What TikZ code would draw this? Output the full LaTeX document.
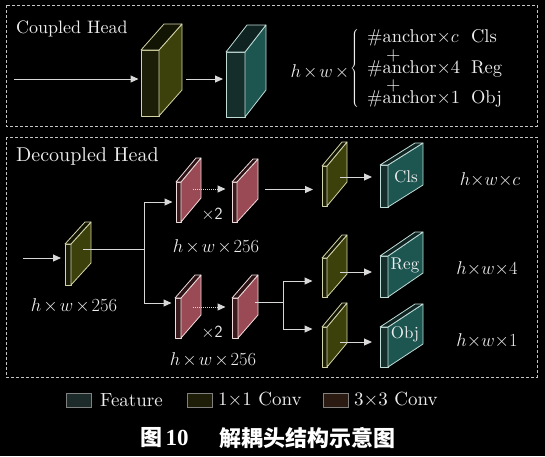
\RequirePackage{fix-cm}
\documentclass[tikz,border=0pt]{standalone}
\usepackage{fontspec}
\setmainfont{lmroman10-regular.otf}[BoldFont=lmroman10-bold.otf, ItalicFont=lmroman10-italic.otf]
\newfontfamily\cjk{Noto Sans CJK SC}
\newfontfamily\tnr{Liberation Serif}
\usetikzlibrary{arrows.meta,calc}
\definecolor{lnc}{HTML}{D8D8D8}
\definecolor{txc}{HTML}{EEEEEE}
\definecolor{boxc}{HTML}{C4C4C4}
% olive (1x1 conv)
\definecolor{oF}{HTML}{1C1E08}
\definecolor{oS}{HTML}{3C400A}
\definecolor{oT}{HTML}{121404}
\definecolor{oE}{HTML}{D4D4A8}
% teal (feature)
\definecolor{tF}{HTML}{152E2B}
\definecolor{tS}{HTML}{1D5550}
\definecolor{tT}{HTML}{0F2422}
\definecolor{tE}{HTML}{C0DCD6}
% pink (3x3 conv)
\definecolor{pF}{HTML}{3A1A1C}
\definecolor{pS}{HTML}{9A4A55}
\definecolor{pT}{HTML}{2A1214}
\definecolor{pE}{HTML}{F0DCDC}
% legend swatches
\definecolor{lgF}{HTML}{1C2A2A}
\definecolor{lgO}{HTML}{1E1E08}
\definecolor{lgP}{HTML}{2A1A12}
\tikzset{
  front/.style={draw, inner sep=0pt, outer sep=0pt, line width=0.8pt, line join=round},
  ln/.style={draw=lnc, line width=1pt},
  arr/.style={draw=lnc, line width=1pt, -{Triangle[length=8pt,width=7pt]}},
  darr/.style={draw=lnc, line width=1pt, dash pattern=on 1pt off 1pt, -{Triangle[length=8pt,width=7pt,sep=0pt]}},
  dbox/.style={draw=boxc, line width=0.8pt, dash pattern=on 3pt off 2pt},
  lbl/.style={text=txc, inner sep=0pt, font=\fontsize{18.5}{20}\selectfont},
  blbl/.style={text=txc, inner sep=0pt, font=\fontsize{17}{19}\selectfont},
  swatch/.style={draw=gray, line width=0.8pt, minimum width=25pt, minimum height=14pt, inner sep=0pt},
}
% name, x, ybottom, w, h, dx, dy, colour prefix
\newcommand{\blk}[8]{%
  \node[front, draw=#8E, fill=#8F, minimum width=#4pt, minimum height=#5pt, anchor=south west] (#1) at (#2,#3) {};
  \filldraw[draw=#8E, fill=#8S, line width=0.8pt, line join=round] (#1.south east) -- (#1.north east) -- ++(#6,#7) -- ++(0,#5) -- cycle;
  \filldraw[draw=#8E, fill=#8T, line width=0.8pt, line join=round] (#1.north west) -- ++(#6,#7) -- ++(#4,0) -- (#1.north east) -- cycle;
}
\newcommand{\hwx}[1]{$h{\times}w{\times}#1$}
\newcommand{\hwxs}[1]{$h\mkern2mu{\times}\mkern2mu w\mkern2mu{\times}\mkern2mu#1$}
\begin{document}
\begin{tikzpicture}[x=1pt,y=-1pt]
\fill[black] (0,0) rectangle (545,456);
\useasboundingbox (0,0) rectangle (545,456);

% frames
\draw[dbox] (6,5) rectangle (537,126);
\draw[dbox] (6,137) rectangle (537,377);

% ---------- Coupled head ----------
\node[lbl, anchor=west, font=\fontsize{18}{20}\selectfont] (ch) at (16,29) {Coupled Head};
\blk{cb1}{141}{116}{18}{66}{23}{-26}{o}
\blk{cb2}{226}{117}{19}{65}{21}{-27}{t}
\coordinate (cin) at (14,79);
\draw[arr, shorten >=2.5pt] (cin) -- (cin -| cb1.west);
\coordinate (cb1o) at ($(cb1.east |- cin)+(27,0)$);
\draw[arr, shorten >=3pt] (cb1o) -- (cb1o -| cb2.west);

\node[lbl] (hw) at (321,72) {\hwxs{}};
\node[lbl, anchor=west] (form) at (350,68.5) {$\left\{\kern8pt\vcenter{\baselineskip=15.3pt \lineskiplimit=-100pt \lineskip=0pt
  \hbox{\hbox to 104pt{\#anchor$\times c$\hfil}Cls}
  \hbox{\hspace{19pt}\lower2.5pt\hbox{+}}
  \hbox{\hbox to 104pt{\#anchor$\times$4\hfil}Reg}
  \hbox{\hspace{19pt}\lower2.5pt\hbox{+}}
  \hbox{\hbox to 104pt{\#anchor$\times$1\hfil}Obj}}\right.$};

% ---------- Decoupled head ----------
\node[lbl, anchor=west, font=\fontsize{20}{22}\selectfont] (dh) at (16,156) {Decoupled Head};
\blk{A}{65}{285}{6}{41}{20}{-22}{o}
\blk{P1}{176}{222}{5}{40}{20}{-24}{p}
\blk{P2}{232}{222}{5}{40}{21}{-23}{p}
\blk{P3}{175}{338}{6}{40}{20}{-23}{p}
\blk{P4}{232}{338}{6}{40}{20}{-23}{p}
\blk{C1}{322}{206}{5}{40}{20}{-24}{o}
\blk{C2}{322}{297}{5}{39}{20}{-23}{o}
\blk{C3}{322}{367}{5}{40}{20}{-24}{o}
\blk{T1}{380}{207}{8}{42}{35}{-22}{t}
\blk{T2}{380}{297}{8}{41}{35}{-24}{t}
\blk{T3}{380}{367}{8}{40}{35}{-23}{t}

\node[blbl] (t1l) at ($(T1.east)+(18,-9)$) {Cls};
\node[blbl] (t2l) at ($(T2.east)+(17,-11.5)$) {Reg};
\node[blbl] (t3l) at ($(T3.east)+(17,-13)$) {Obj};

% connectors
\coordinate (din) at (23,258);
\draw[arr, shorten >=4pt] (din) -- (din -| A.west);
\coordinate (Ao) at ($(A.east)+(12,-15.5)$);
\coordinate (br1) at ($(Ao)+(61,0)$);
\draw[ln] (Ao) -- (br1);
\coordinate (P3in) at ($(P3.west)+(0,-15)$);
\draw[arr, shorten >=3.5pt] (br1) |- (P1.west);
\draw[arr, shorten >=3.5pt] (br1) |- (P3in);

\coordinate (P1o) at ($(P1.east)+(12,-13)$);
\draw[darr, shorten >=6.5pt] (P1o) -- (P1o -| P2.west);
\coordinate (P3o) at ($(P3.east)+(12,-11)$);
\draw[darr, shorten >=6.5pt] (P3o) -- (P3o -| P4.west);

\coordinate (P2o) at ($(P2.east)+(28,-12.5)$);
\draw[arr, shorten >=9pt] (P2o) -- (P2o -| C1.west);

\coordinate (P4o) at ($(P4.east)+(17,-16)$);
\coordinate (br2) at ($(P4o)+(28,0)$);
\draw[ln] (P4o) -- (br2);
\coordinate (C2in) at ($(C2.west)+(0,3.5)$);
\coordinate (C3in) at ($(C3.west)+(0,-18)$);
\draw[arr, shorten >=9.5pt] (br2) |- (C2in);
\draw[arr, shorten >=9.5pt] (br2) |- (C3in);

\coordinate (C1o) at ($(C1.east)+(13,-9)$);
\draw[arr, shorten >=8pt] (C1o) -- (C1o -| T1.west);
\coordinate (C2o) at ($(C2.east)+(13,-5.5)$);
\draw[arr, shorten >=8pt] (C2o) -- (C2o -| T2.west);
\coordinate (C3o) at ($(C3.east)+(13,-5)$);
\draw[arr, shorten >=8pt] (C3o) -- (C3o -| T3.west);

% labels
\node[lbl] (sA) at (74,306) {\hwxs{256}};
\node[lbl] (sP1) at (216,247) {\hwxs{256}};
\node[lbl] (sP3) at (213,360) {\hwxs{256}};
\node[lbl, font=\fontsize{17}{20}\selectfont\sffamily] (x2a) at (212,214) {$\times$2};
\node[lbl, font=\fontsize{17}{20}\selectfont\sffamily] (x2b) at (212,332) {$\times$2};
\node[lbl] (oc) at (490,180) {\hwx{c}};
\node[lbl] (o4) at (487,269) {\hwx{4}};
\node[lbl] (o1) at (487,341) {\hwx{1}};

% ---------- legend ----------
\node[swatch, fill=lgF] (lg1) at (79,400) {};
\node[lbl, anchor=west, font=\fontsize{19}{20}\selectfont] (lt1) at (100,400) {Feature};
\node[swatch, fill=lgO] (lg2) at (199.5,400) {};
\node[lbl, anchor=west, font=\fontsize{19}{20}\selectfont] (lt2) at (218,400) {1$\times$1 Conv};
\node[swatch, fill=lgP] (lg3) at (336,400) {};
\node[lbl, anchor=west, font=\fontsize{19}{20}\selectfont] (lt3) at (354,400) {3$\times$3 Conv};

% ---------- caption ----------
\node[text=white, inner sep=0pt, font=\fontsize{22}{24}\selectfont\cjk\bfseries] (cf) at (151,438) {图};
\node[text=white, inner sep=0pt, font=\fontsize{23}{24}\selectfont\tnr\bfseries] (cn) at (177,438) {10};
\node[text=white, inner sep=0pt, font=\fontsize{22}{24}\selectfont\cjk\bfseries] (ct) at (307.5,438) {解耦头结构示意图};
\end{tikzpicture}
\end{document}
